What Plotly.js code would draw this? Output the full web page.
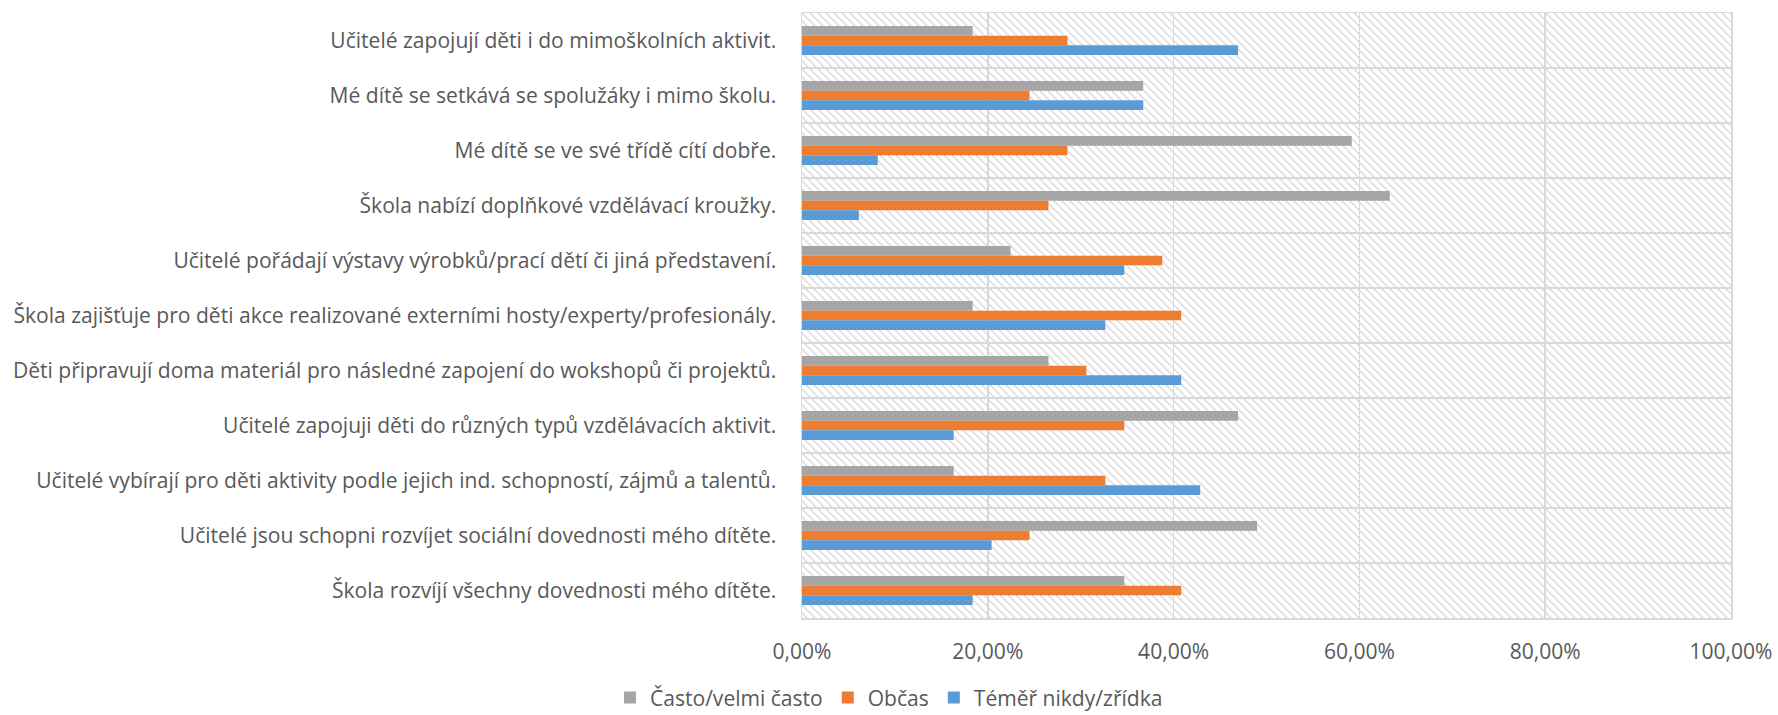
<!DOCTYPE html>
<html>
<head>
<meta charset="utf-8">
<script src="https://cdn.plot.ly/plotly-3.0.1.min.js"></script>
<style>html,body{margin:0;padding:0;background:#fff;}#chart{width:1778px;height:715px;}</style>
</head>
<body>
<div id="chart"></div>
<script>
const categories = [
  "Učitelé zapojují děti i do mimoškolních aktivit.",
  "Mé dítě se setkává se spolužáky i mimo školu.",
  "Mé dítě se ve své třídě cítí dobře.",
  "Škola nabízí doplňkové vzdělávací kroužky.",
  "Učitelé pořádají výstavy výrobků/prací dětí či jiná představení.",
  "Škola zajišťuje pro děti akce realizované externími hosty/experty/profesionály.",
  "Děti připravují doma materiál pro následné zapojení do wokshopů či projektů.",
  "Učitelé zapojuji děti do různých typů vzdělávacích aktivit.",
  "Učitelé vybírají pro děti aktivity podle jejich ind. schopností, zájmů a talentů.",
  "Učitelé jsou schopni rozvíjet sociální dovednosti mého dítěte.",
  "Škola rozvíjí všechny dovednosti mého dítěte."
];
const seriesNames = ["Často/velmi často", "Občas", "Téměř nikdy/zřídka"];
const castoValues  = [0.1837, 0.3673, 0.5918, 0.6327, 0.2245, 0.1837, 0.2653, 0.4694, 0.1633, 0.4898, 0.3469];
const obcasValues  = [0.2857, 0.2449, 0.2857, 0.2653, 0.3878, 0.4082, 0.3061, 0.3469, 0.3265, 0.2449, 0.4082];
const zridkaValues = [0.4694, 0.3673, 0.0816, 0.0612, 0.3469, 0.3265, 0.4082, 0.1633, 0.4286, 0.2041, 0.1837];
const xTickValues = [0, 0.2, 0.4, 0.6, 0.8, 1.0];

const colors = ["#A5A5A5", "#ED7D31", "#5B9BD5"];
const valueSets = [castoValues, obcasValues, zridkaValues];

const family = "'Open Sans', 'Noto Sans', sans-serif";
// fit the font size so the longest category label spans about 764 px, as in the reference
const cv = document.createElement("canvas").getContext("2d");
cv.font = "20px " + family;
const longest = categories.reduce((a, b) => (cv.measureText(b).width > cv.measureText(a).width ? b : a));
let fsize = 20 * 764 / cv.measureText(longest).width;
if (!isFinite(fsize) || fsize < 14 || fsize > 26) fsize = 20.5;

const font = { family: family, size: fsize, color: "#595959" };

const traces = valueSets.map((vals, i) => ({
  type: "bar",
  orientation: "h",
  name: seriesNames[i],
  y: categories,
  x: vals,
  marker: { color: colors[i], line: { width: 0 } },
  hoverinfo: "x+y+name"
}));

const W = 929, H = 605;
const svg = `<svg xmlns="http://www.w3.org/2000/svg" width="${W}" height="${H}">` +
  `<defs><pattern id="p" width="8" height="8" patternUnits="userSpaceOnUse">` +
  `<path d="M-2,-2 L10,10 M-2,6 L2,10 M6,-2 L10,2" stroke="#dadada" stroke-width="1.5"/>` +
  `</pattern></defs><rect width="${W}" height="${H}" fill="#ffffff"/><rect width="${W}" height="${H}" fill="url(#p)"/></svg>`;
const hatch = "data:image/svg+xml;charset=utf-8," + encodeURIComponent(svg);

const layout = {
  width: 1778, height: 715,
  margin: { l: 802, r: 47, t: 13, b: 97, pad: 0 },
  paper_bgcolor: "#ffffff",
  plot_bgcolor: "#ffffff",
  separators: ", ",
  font: font,
  barmode: "group",
  bargap: 0.47,
  bargroupgap: 0,
  showlegend: true,
  legend: {
    orientation: "h",
    xref: "container", yref: "container",
    x: 0.5, xanchor: "center",
    y: 0.024, yanchor: "middle",
    font: font,
    itemwidth: 30,
    traceorder: "normal"
  },
  xaxis: {
    range: [0, 1],
    tickvals: xTickValues,
    tickformat: ".2%",
    showgrid: true,
    gridcolor: "#d9d9d9",
    gridwidth: 1.5,
    zeroline: false,
    showline: true,
    linecolor: "#d9d9d9",
    linewidth: 1.5,
    mirror: true,
    ticks: "",
    ticklabelstandoff: 14,
    tickfont: font,
    fixedrange: true
  },
  yaxis: {
    type: "category",
    autorange: "reversed",
    tickson: "boundaries",
    showgrid: true,
    gridcolor: "#d9d9d9",
    gridwidth: 1.5,
    showline: true,
    linecolor: "#d9d9d9",
    linewidth: 1.5,
    mirror: true,
    ticks: "",
    ticklabelstandoff: 20,
    tickfont: font,
    fixedrange: true
  },
  images: [{
    source: hatch,
    xref: "paper", yref: "paper",
    x: 0, y: 1, sizex: 1, sizey: 1,
    xanchor: "left", yanchor: "top",
    sizing: "stretch",
    layer: "below"
  }]
};

Plotly.newPlot("chart", traces, layout, { displayModeBar: false, staticPlot: true });
</script>
</body>
</html>
